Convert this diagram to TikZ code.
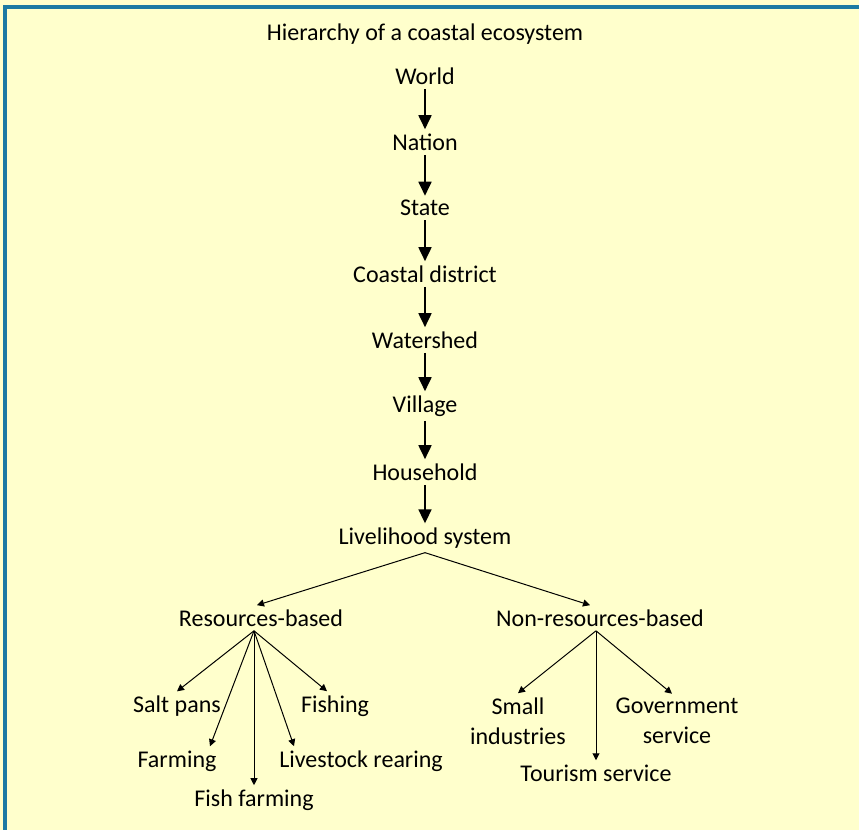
\documentclass[tikz,border=0pt]{standalone}
\usepackage{fontspec}
\setmainfont{Carlito}
\usetikzlibrary{arrows.meta,positioning}
\definecolor{paleyellow}{RGB}{255,255,204}
\definecolor{frameblue}{RGB}{28,122,163}

\tikzset{
  tier/.style={inner sep=2pt, align=center, font=\fontsize{12}{15}\selectfont},
  stepdown/.style={-{Triangle[width=6.5pt,length=7pt]}, line width=0.9pt},
  fork/.style={-{Triangle[width=3.5pt,length=3.5pt]}, line width=0.5pt},
}

\begin{document}
\begin{tikzpicture}[x=0.5pt, y=-0.5pt, node distance=33pt, every node/.style={tier}]
    \useasboundingbox (0,0) rectangle (859,830);
    \fill[paleyellow] (0,0) rectangle (859,830);
    \draw[frameblue, line width=2pt] (5,830) -- (5,6.5) -- (859,6.5);

    % the chain from world down to livelihood
    \node (title) at (425,34) {Hierarchy of a coastal ecosystem};
    \node (world) at (425,76) {World};
    \node[below of=world] (nation) {Nation};
    \node[below of=nation] (state) {State};
    \node[below of=state] (district) {Coastal district};
    \node[below of=district] (watershed) {Watershed};
    \node[below of=watershed] (village) {Village};
    \node[below of=village] (household) {Household};
    \node[below of=household] (livelihood) {Livelihood system};
    \foreach \a/\b in {world/nation, nation/state, state/district, district/watershed,
                       watershed/village, village/household, household/livelihood}
        \draw[stepdown] (\a) -- (\b);

    % two kinds of livelihood
    \node (resource) at (261,618) {Resources-based};
    \node (nonresource) at (600,618) {Non-resources-based};
    \draw[fork] (livelihood.south) -- ([xshift=-2pt]resource.north);
    \draw[fork] (livelihood.south) -- ([xshift=-5pt]nonresource.north);

    % resources-based activities
    \node (saltpans) at (177,706) {Salt pans};
    \node (fishing) at (335,706) {Fishing};
    \node (farming) at (177,761) {Farming};
    \node (livestock) at (361,761) {Livestock rearing};
    \node (fishfarming) at (254,800) {Fish farming};
    \coordinate (rs) at ([xshift=-3.5pt]resource.south);
    \draw[fork] (rs) -- (saltpans.north);
    \draw[fork] (rs) -- ([xshift=16.5pt]farming.north);
    \draw[fork] (rs) -- (fishfarming.north);
    \draw[fork] (rs) -- ([xshift=-33.5pt]livestock.north);
    \draw[fork] (rs) -- ([xshift=-4pt]fishing.north);

    % non-resources-based activities
    \node (smallind) at (518,721) {Small\\industries};
    \node (govt) at (677,721) {Government\\service};
    \node (tourism) at (596,773) {Tourism service};
    \coordinate (ns) at ([xshift=-2pt]nonresource.south);
    \draw[fork] (ns) -- (smallind.north);
    \draw[fork] (ns) -- (tourism.north);
    \draw[fork] (ns) -- ([xshift=-2.5pt]govt.north);
\end{tikzpicture}
\end{document}
